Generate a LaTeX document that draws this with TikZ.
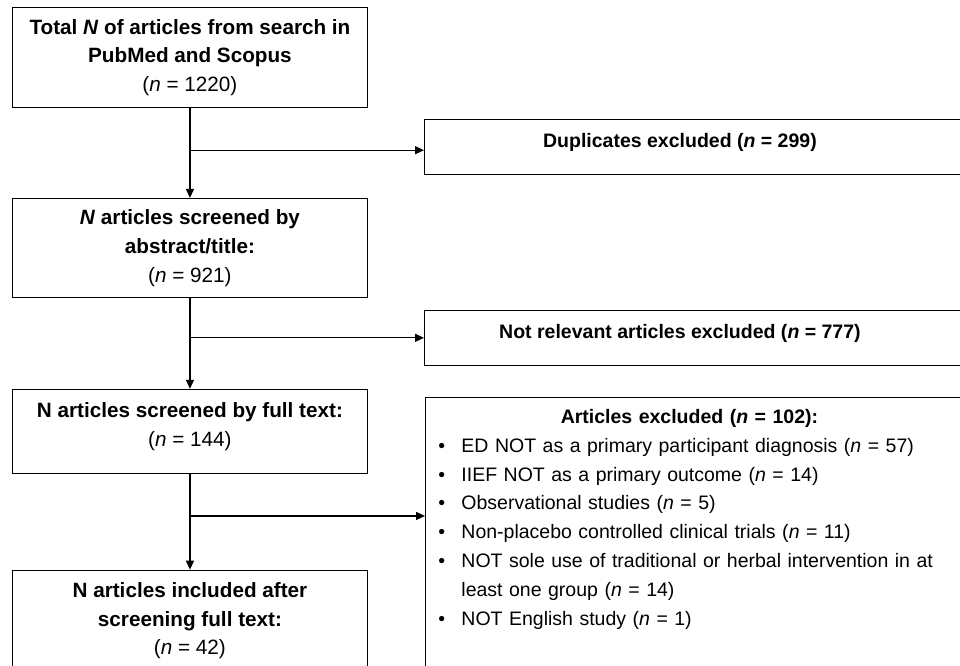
\documentclass[tikz,border=0pt]{standalone}
\usepackage{fontspec}
\setmainfont{Liberation Sans}
\usetikzlibrary{positioning,calc,arrows.meta}

\newcommand{\exclitem}[1]{\par\noindent\hangindent=23pt\hangafter=1
  \makebox[23pt][l]{\textbullet}#1}

\begin{document}
\begin{tikzpicture}[x=1pt,y=1pt,
box/.style={draw,rectangle,line width=0.9pt,align=center,inner sep=4pt,
  font=\fontsize{20.7}{28.8}\selectfont},
flowbox/.style={box,minimum width=355pt},
sidebox/.style={box,anchor=west,minimum width=541pt,minimum height=55pt,text depth=13pt,
  font=\fontsize{19.5}{28.8}\selectfont},
arr/.style={-{Triangle[length=9pt,width=8pt]},line width=1.3pt}]
\useasboundingbox (0,0) rectangle (960,-665);
\clip (0,0) rectangle (960,-665);

\node (total) [flowbox,minimum height=100pt,anchor=north west] at (12,-7)
  {\textbf{Total \textit{N} of articles from search in}\\
   \textbf{PubMed and Scopus}\\(\textit{n} = 1220)};
\node (screened) [flowbox,minimum height=99pt,below=90pt of total]
  {\textbf{\textit{N} articles screened by}\\
   \textbf{abstract/title:}\\(\textit{n} = 921)};
\node (fulltext) [flowbox,minimum height=84pt,text depth=13pt,below=91pt of screened]
  {\textbf{N articles screened by full text:}\\(\textit{n} = 144)};
\node (included) [flowbox,minimum height=101pt,below=96pt of fulltext]
  {\textbf{N articles included after}\\
   \textbf{screening full text:}\\(\textit{n} = 42)};

\node (dup) [sidebox] at (424,-146.5)
  {\textbf{Duplicates excluded (\textit{n} = 299)}\hspace*{30pt}};
\node (notrel) [sidebox] at (424,-337.5)
  {\textbf{Not relevant articles excluded (\textit{n} = 777)}\hspace*{30pt}};
\node (excluded) [box,align=left,anchor=north west,text width=514pt,
    inner xsep=13pt,inner ysep=12pt,font=\fontsize{19.5}{28.8}\selectfont] at (425,-397)
  {{\centering\noindent\textbf{Articles excluded (\textit{n} = 102):}\hspace*{12pt}\par}
   \exclitem{ED NOT as a primary participant diagnosis (\textit{n} = 57)}
   \exclitem{IIEF NOT as a primary outcome (\textit{n} = 14)}
   \exclitem{Observational studies (\textit{n} = 5)}
   \exclitem{Non-placebo controlled clinical trials (\textit{n} = 11)}
   \exclitem{NOT sole use of traditional or herbal intervention in at\newline
     least one group (\textit{n} = 14)}
   \exclitem{NOT English study (\textit{n} = 1)}\par\vbox to 70pt{}};

% main flow
\draw[arr] (total.south) -- (screened.north);
\draw[arr] (screened.south) -- (fulltext.north);
\draw[arr] (fulltext.south) -- (included.north);

% side branches
\coordinate (split1) at ($(total.south)!0.47!(screened.north)$);
\coordinate (split2) at ($(screened.south)!0.44!(fulltext.north)$);
\coordinate (split3) at ($(fulltext.south)!0.44!(included.north)$);
\draw[arr] (split1) -- (split1 -| dup.west);
\draw[arr] (split2) -- (split2 -| notrel.west);
\draw[arr] (split3) -- (split3 -| excluded.west);
\end{tikzpicture}
\end{document}
